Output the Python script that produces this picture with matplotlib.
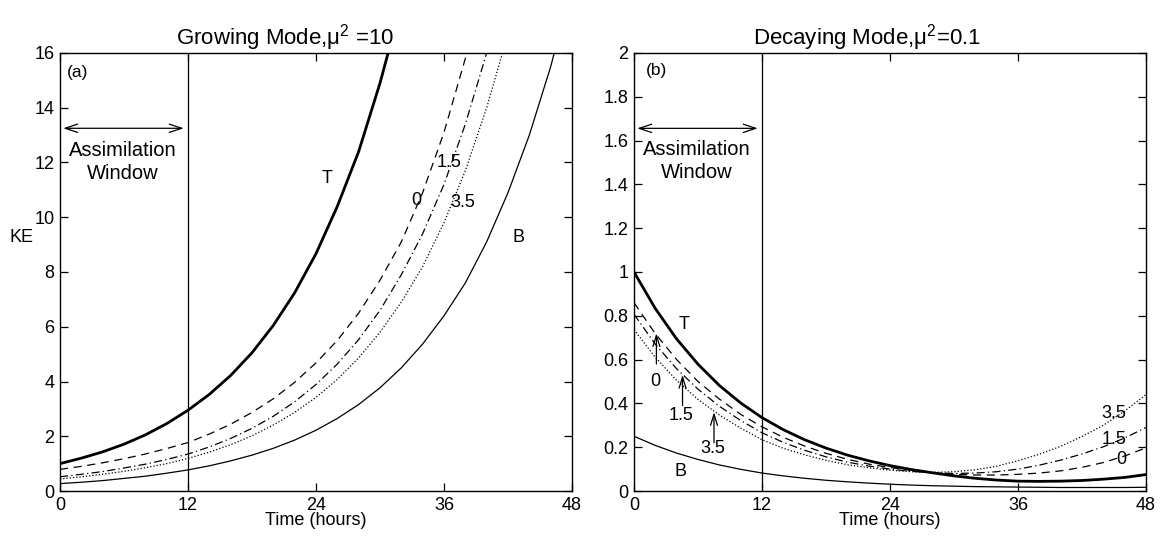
import numpy as np
import matplotlib
matplotlib.use('Agg')
from matplotlib import pyplot as plt
from matplotlib.ticker import FuncFormatter

plt.rcParams['font.family'] = ['Liberation Sans', 'DejaVu Sans']
plt.rcParams['mathtext.fontset'] = 'custom'
plt.rcParams['mathtext.rm'] = 'Liberation Sans'
plt.rcParams['mathtext.it'] = 'Liberation Sans'

# time axis, every 2 hours
hours = np.arange(0, 49, 2)

# (a) growing mode, mu^2 = 10  (curves stop once they leave the top)
ke_true_a = [1.0, 1.2, 1.43, 1.71, 2.05, 2.46, 2.95, 3.53, 4.22, 5.05, 6.05, 7.24,
             8.67, 10.4, 12.4, 14.9, 17.8]
ke_w0_a = [0.79, 0.90, 1.03, 1.18, 1.35, 1.55, 1.77, 2.08, 2.44, 2.87, 3.37, 3.97,
           4.68, 5.5, 6.5, 7.7, 9.1, 10.9, 13.1, 15.8, 19.0]
ke_w15_a = [0.52, 0.61, 0.71, 0.84, 0.98, 1.15, 1.35, 1.61, 1.92, 2.29, 2.73, 3.26,
            3.89, 4.64, 5.53, 6.6, 7.9, 9.4, 11.2, 13.4, 16.0, 19.0]
ke_w35_a = [0.44, 0.52, 0.61, 0.72, 0.85, 1.0, 1.19, 1.42, 1.69, 2.02, 2.41, 2.87,
            3.42, 4.08, 4.86, 5.8, 6.9, 8.2, 9.8, 11.7, 14.0, 16.7]
ke_back_a = [0.27, 0.32, 0.38, 0.46, 0.54, 0.65, 0.77, 0.92, 1.10, 1.31, 1.56, 1.86,
             2.22, 2.65, 3.16, 3.77, 4.5, 5.37, 6.4, 7.6, 9.1, 10.9, 13.0, 15.5, 18.5]

# (b) decaying mode, mu^2 = 0.1
ke_true_b = [1.0, 0.833, 0.694, 0.579, 0.482, 0.402, 0.335, 0.28, 0.234, 0.196, 0.164,
             0.138, 0.116, 0.098, 0.083, 0.069, 0.058, 0.05, 0.045, 0.044, 0.045,
             0.048, 0.054, 0.062, 0.075]
ke_w0_b = [0.86, 0.718, 0.60, 0.50, 0.42, 0.35, 0.293, 0.245, 0.205, 0.172, 0.145,
           0.123, 0.107, 0.094, 0.082, 0.076, 0.073, 0.073, 0.076, 0.082, 0.092,
           0.108, 0.13, 0.16, 0.197]
ke_w15_b = [0.807, 0.67, 0.558, 0.465, 0.387, 0.322, 0.266, 0.222, 0.186, 0.156, 0.132,
            0.114, 0.10, 0.09, 0.083, 0.08, 0.082, 0.088, 0.1, 0.118, 0.141, 0.169,
            0.202, 0.242, 0.29]
ke_w35_b = [0.737, 0.61, 0.505, 0.418, 0.347, 0.287, 0.234, 0.195, 0.165, 0.14, 0.12,
            0.106, 0.095, 0.088, 0.085, 0.088, 0.097, 0.113, 0.138, 0.168, 0.204,
            0.249, 0.30, 0.365, 0.44]
ke_back_b = [0.25, 0.208, 0.173, 0.144, 0.119, 0.099, 0.082, 0.069, 0.058, 0.049, 0.042,
             0.036, 0.031, 0.027, 0.024, 0.022, 0.020, 0.019, 0.018, 0.017, 0.016,
             0.016, 0.016, 0.016, 0.017]

window_end = 12
xticks = [0, 12, 24, 36, 48]

fig = plt.figure(figsize=(11.6, 5.41), dpi=100)
ax_a = fig.add_axes([60 / 1160, 50 / 541, 512 / 1160, 438 / 541])
ax_b = fig.add_axes([634 / 1160, 50 / 541, 512 / 1160, 438 / 541])


def draw_curves(ax, true, w0, w15, w35, back):
    def p(vals, **kw):
        ax.plot(hours[:len(vals)], vals, color='k', **kw)
    p(true, lw=2.0)
    p(w0, lw=0.9, dashes=(6.5, 4.5))
    p(w15, lw=0.9, dashes=(6.5, 2.6, 1.0, 2.6))
    p(w35, lw=0.9, dashes=(1.0, 1.6))
    p(back, lw=0.9)
    ax.axvline(window_end, color='k', lw=0.9)


def style_axes(ax, ymax, yticks):
    ax.set_xlim(0, 48)
    ax.set_ylim(0, ymax)
    ax.set_xticks(xticks)
    ax.set_yticks(yticks)
    ax.yaxis.set_major_formatter(FuncFormatter(lambda v, p: f'{v:g}'))
    ax.tick_params(direction='in', length=6, width=0.9, top=True, right=True,
                   labelsize=13, pad=4)
    for s in ax.spines.values():
        s.set_linewidth(1.0)
    ax.set_xlabel('Time (hours)', fontsize=13, labelpad=-1)


def window_marker(ax, y_arrow, y_text1, y_text2):
    ax.annotate('', xy=(0.3, y_arrow), xytext=(11.6, y_arrow),
                arrowprops=dict(arrowstyle='<->,head_length=0.9,head_width=0.3',
                                color='k', lw=0.9, shrinkA=0, shrinkB=0))
    ax.text(5.9, y_text1, 'Assimilation', ha='center', va='center', fontsize=14.5)
    ax.text(5.9, y_text2, 'Window', ha='center', va='center', fontsize=14.5)


# ---- panel (a)
draw_curves(ax_a, ke_true_a, ke_w0_a, ke_w15_a, ke_w35_a, ke_back_a)
style_axes(ax_a, 16, np.arange(0, 17, 2))
window_marker(ax_a, 13.25, 12.45, 11.6)
ax_a.set_title('Growing Mode,μ$^{2}$ =10', fontsize=16, x=0.44, pad=6)
ax_a.set_ylabel('KE', rotation=0, fontsize=13)
ax_a.yaxis.set_label_coords(-0.075, 0.56)
ax_a.text(1.6, 15.3, '(a)', fontsize=12.5, ha='center', va='center')
for lbl, x, y in [('T', 25.0, 11.4), ('0', 33.4, 10.6), ('1.5', 36.5, 12.0),
                  ('3.5', 37.8, 10.55), ('B', 43.0, 9.25)]:
    ax_a.text(x, y, lbl, fontsize=13, ha='center', va='center')

# ---- panel (b)
draw_curves(ax_b, ke_true_b, ke_w0_b, ke_w15_b, ke_w35_b, ke_back_b)
style_axes(ax_b, 2, np.arange(0, 2.01, 0.2))
window_marker(ax_b, 1.656, 1.558, 1.455)
ax_b.set_title('Decaying Mode,μ$^{2}$=0.1', fontsize=16, x=0.455, pad=6)
ax_b.text(2.1, 1.92, '(b)', fontsize=12.5, ha='center', va='center')
for lbl, x, y in [('T', 4.7, 0.76), ('B', 4.4, 0.09), ('3.5', 45.0, 0.353),
                  ('1.5', 45.05, 0.236), ('0', 45.7, 0.143)]:
    ax_b.text(x, y, lbl, fontsize=13, ha='center', va='center')

# arrows pointing each window-length label at its curve
for lbl, x, y0, y1, ylab in [('0', 2.1, 0.58, 0.72, 0.50), ('1.5', 4.55, 0.39, 0.53, 0.345),
                             ('3.5', 7.5, 0.22, 0.36, 0.193)]:
    ax_b.annotate('', xy=(x, y1), xytext=(x, y0),
                  arrowprops=dict(arrowstyle='->,head_length=0.8,head_width=0.25',
                                  color='k', lw=0.9, shrinkA=0, shrinkB=0))
    ax_b.text(x - 0.1, ylab, lbl, fontsize=13, ha='center', va='center')

fig.savefig('out.png', dpi=100)
